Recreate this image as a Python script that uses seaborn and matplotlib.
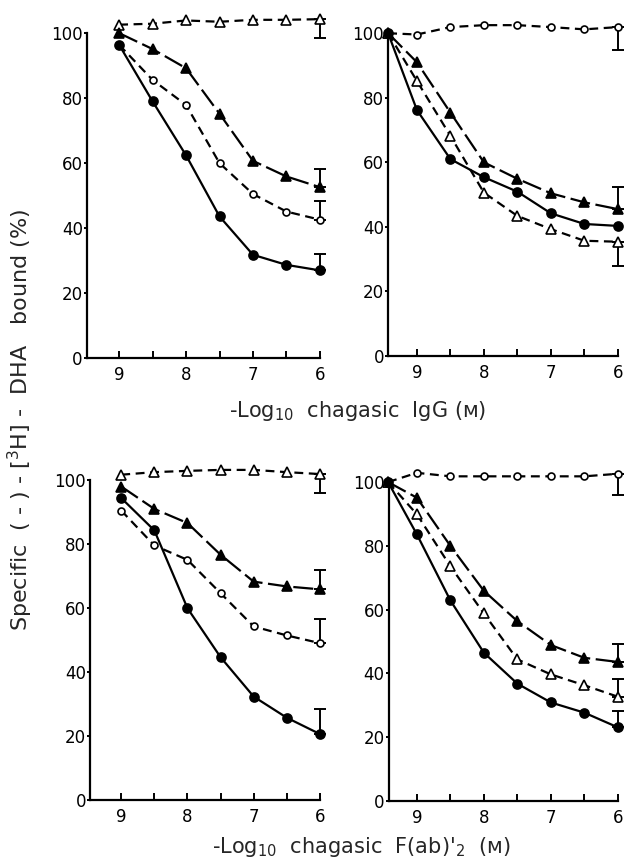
import matplotlib
matplotlib.use("Agg")
import matplotlib.pyplot as plt
import seaborn as sns
import pandas as pd

sns.set_theme(style="ticks")
plt.rcParams['font.family'] = ['DejaVu Sans']

x_std = [9.0, 8.5, 8.0, 7.5, 7.0, 6.5, 6.0]
x_right = [9.43, 9.0, 8.5, 8.0, 7.5, 7.0, 6.5, 6.0]
x_ticks = [9, 8.5, 8, 7.5, 7, 6.5, 6]
x_ticklabels = ["9", "", "8", "", "7", "", "6"]
y_ticks = [0, 20, 40, 60, 80, 100]

# Panel A (top-left): chagasic IgG
a_open_tri = [102.6, 102.9, 103.9, 103.5, 104.1, 104.1, 104.3]
a_fill_tri = [100.0, 95.1, 89.2, 75.2, 60.7, 55.9, 52.6]
a_open_circ = [96.4, 85.6, 77.9, 60.0, 50.5, 45.1, 42.6]
a_fill_circ = [96.4, 79.0, 62.4, 43.6, 31.8, 28.7, 27.0]
a_err = {"open_tri": 98.5, "fill_tri": 58.3, "open_circ": 48.4, "fill_circ": 32.1}

# Panel B (top-right): chagasic IgG
b_open_circ = [100.0, 99.6, 101.9, 102.5, 102.5, 101.9, 101.2, 101.9]
b_fill_tri = [100.0, 91.0, 75.4, 60.0, 54.9, 50.4, 47.6, 45.5]
b_open_tri = [100.0, 85.2, 68.2, 50.6, 43.4, 39.3, 35.7, 35.4]
b_fill_circ = [100.0, 76.2, 61.0, 55.4, 50.9, 44.2, 40.9, 40.3]
b_err = {"open_circ": 94.8, "fill_tri": 52.3, "open_tri": 27.9}

# Panel C (bottom-left): chagasic F(ab')2
c_open_tri = [101.6, 102.4, 102.8, 103.1, 103.1, 102.4, 101.8]
c_fill_tri = [97.9, 90.9, 86.5, 76.6, 68.2, 66.7, 65.8]
c_open_circ = [90.4, 79.5, 75.0, 64.6, 54.2, 51.4, 49.0]
c_fill_circ = [94.3, 84.2, 59.9, 44.6, 32.3, 25.7, 20.6]
c_err = {"open_tri": 96.0, "fill_tri": 71.9, "open_circ": 56.5, "fill_circ": 28.4}

# Panel D (bottom-right): chagasic F(ab')2
d_open_circ = [100.0, 102.9, 101.8, 101.8, 101.8, 101.8, 101.8, 102.6]
d_fill_tri = [100.0, 95.1, 80.0, 65.9, 56.4, 48.9, 44.9, 43.6]
d_open_tri = [100.0, 89.9, 73.6, 58.8, 44.4, 39.7, 36.3, 32.7]
d_fill_circ = [100.0, 83.6, 62.9, 46.5, 36.8, 30.9, 27.7, 23.1]
d_err = {"open_circ": 95.8, "fill_tri": 49.2, "open_tri": 38.4, "fill_circ": 28.3}

ylabel = r"Specific  ( - ) - [$^3$H] -  DHA   bound (%)"
xlabel_top = r"-Log$_{10}$  chagasic  IgG (ᴍ)"
xlabel_bottom = r"-Log$_{10}$  chagasic  F(ab)$'_2$  (ᴍ)"

STYLES = {
    "fill_circ": dict(marker="o", mfc="black", ms=6.5, dashes=None),
    "open_circ": dict(marker="o", mfc="white", ms=5, dashes=(4, 2.5)),
    "fill_tri": dict(marker="^", mfc="black", ms=7, dashes=(9, 2.5)),
    "open_tri": dict(marker="^", mfc="white", ms=6.5, dashes=(4, 2.5)),
}

fig = plt.figure(figsize=(6.26, 8.63), dpi=100)

panels = [
    ([0.139, 0.585, 0.372, 0.3766], 9.48, x_std,
     {"open_tri": a_open_tri, "fill_tri": a_fill_tri, "open_circ": a_open_circ, "fill_circ": a_fill_circ}, a_err),
    ([0.620, 0.5875, 0.367, 0.374], 9.43, x_right,
     {"open_circ": b_open_circ, "fill_tri": b_fill_tri, "open_tri": b_open_tri, "fill_circ": b_fill_circ}, b_err),
    ([0.144, 0.073, 0.367, 0.371], 9.47, x_std,
     {"open_tri": c_open_tri, "fill_tri": c_fill_tri, "open_circ": c_open_circ, "fill_circ": c_fill_circ}, c_err),
    ([0.621, 0.0718, 0.366, 0.3696], 9.42, x_right,
     {"open_circ": d_open_circ, "fill_tri": d_fill_tri, "open_tri": d_open_tri, "fill_circ": d_fill_circ}, d_err),
]

for rect, xleft, xs, series, errs in panels:
    ax = fig.add_axes(rect)
    for key, ys in series.items():
        st = STYLES[key]
        df = pd.DataFrame({"x": xs, "y": ys})
        kw = dict(color="black", lw=1.6, marker=st["marker"], markersize=st["ms"],
                  markerfacecolor=st["mfc"], markeredgecolor="black", markeredgewidth=1.2,
                  clip_on=False, zorder=3)
        if st["dashes"] is not None:
            kw["dashes"] = st["dashes"]
        else:
            kw["linestyle"] = "-"
        sns.lineplot(data=df, x="x", y="y", ax=ax, estimator=None, sort=False, **kw)
        if key in errs:
            y_end = ys[-1]
            e = errs[key]
            lo, hi = (y_end - e, 0) if e < y_end else (0, e - y_end)
            ax.errorbar([xs[-1]], [y_end], yerr=[[lo], [hi]], fmt="none", ecolor="black",
                        elinewidth=1.4, capsize=4, capthick=1.4, clip_on=False, zorder=2)
    ax.set_xlim(xleft, 6.0)
    ax.set_ylim(0, 100)
    ax.set_xticks(x_ticks)
    ax.set_xticklabels(x_ticklabels)
    ax.set_yticks(y_ticks)
    ax.set_yticklabels([str(v) for v in y_ticks])
    ax.tick_params(axis="x", direction="in", length=5, width=1.4, labelsize=12, pad=6, colors="black")
    ax.tick_params(axis="y", direction="out", length=2, width=1.4, labelsize=12, pad=1, colors="black")
    for s in ["top", "right"]:
        ax.spines[s].set_visible(False)
    for s in ["left", "bottom"]:
        ax.spines[s].set_linewidth(1.6)
        ax.spines[s].set_color("black")
    ax.set_xlabel("")
    ax.set_ylabel("")
    ax.set_facecolor("white")

fig.text(0.572, 1 - 411 / 863, xlabel_top, ha="center", va="center", fontsize=15)
fig.text(0.577, 1 - 847 / 863, xlabel_bottom, ha="center", va="center", fontsize=15)
fig.text(0.032, 1 - 420 / 863, ylabel, ha="center", va="center", rotation=90, fontsize=16)

fig.savefig("out.png", dpi=100, facecolor="white")
